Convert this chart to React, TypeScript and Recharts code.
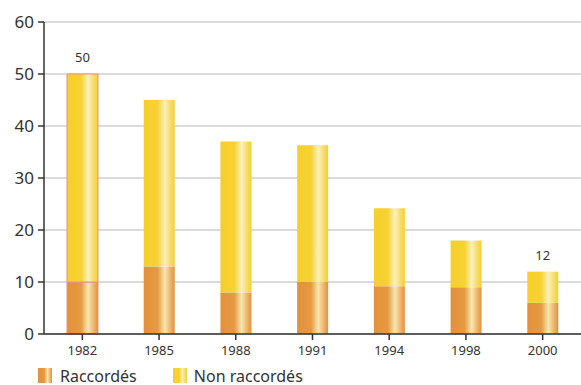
import React from "react";
import { BarChart, Bar, XAxis, YAxis, CartesianGrid, Legend, LabelList, Cell } from "recharts";

const years = ["1982", "1985", "1988", "1991", "1994", "1998", "2000"];
const raccordes = [10, 13, 8, 10, 9.2, 9, 6];
const nonRaccordes = [40, 32, 29, 26.3, 15, 9, 6];
const topLabels = ["50", "", "", "", "", "", "12"];
const yTicks = [0, 10, 20, 30, 40, 50, 60];

const data = years.map((y, i) => ({
  year: y,
  raccordes: raccordes[i],
  nonRaccordes: nonRaccordes[i],
  label: topLabels[i],
}));

const FONT = "'Noto Sans', sans-serif";
const ORANGE_CSS = "linear-gradient(to right, #E3913A 0%, #E59A42 45%, #F7E7B0 68%, #EDB870 85%, #E3913A 100%)";
const YELLOW_CSS = "linear-gradient(to right, #F6CF2A 0%, #F6D232 45%, #FAF0BB 68%, #F7DD70 85%, #F6CF2A 100%)";

const renderLegend = () => (
  <div style={{ display: "flex", alignItems: "center", fontFamily: FONT, fontSize: 16, color: "#333", paddingLeft: 38, paddingTop: 2, height: 21, boxSizing: "border-box", lineHeight: "16px" }}>
    <span style={{ display: "inline-block", width: 14, height: 15, background: ORANGE_CSS, marginRight: 8 }} />
    <span style={{ marginRight: 36 }}>Raccordés</span>
    <span style={{ display: "inline-block", width: 14, height: 15, background: YELLOW_CSS, marginRight: 7 }} />
    <span>Non raccordés</span>
  </div>
);

export default function App() {
  return (
    <div style={{ position: "absolute", left: 0, top: 0, width: 581, height: 385, background: "#fff", overflow: "hidden" }}>
      <BarChart
        width={581}
        height={385}
        data={data}
        margin={{ top: 22, right: 0, left: 0, bottom: 0 }}
        barCategoryGap={0}
      >
        <defs>
          <linearGradient id="gOrange" x1="0" y1="0" x2="1" y2="0">
            <stop offset="0%" stopColor="#E3913A" />
            <stop offset="45%" stopColor="#E59A42" />
            <stop offset="68%" stopColor="#F7E7B0" />
            <stop offset="85%" stopColor="#EDB870" />
            <stop offset="100%" stopColor="#E3913A" />
          </linearGradient>
          <linearGradient id="gYellow" x1="0" y1="0" x2="1" y2="0">
            <stop offset="0%" stopColor="#F6CF2A" />
            <stop offset="45%" stopColor="#F6D232" />
            <stop offset="68%" stopColor="#FAF0BB" />
            <stop offset="85%" stopColor="#F7DD70" />
            <stop offset="100%" stopColor="#F6CF2A" />
          </linearGradient>
        </defs>
        <CartesianGrid vertical={false} stroke="#cfcfcf" strokeWidth={1.5} />
        <XAxis
          dataKey="year"
          axisLine={{ stroke: "#333", strokeWidth: 1.5 }}
          tickLine={{ stroke: "#333", strokeWidth: 1.5 }}
          tickSize={6}
          tickMargin={6}
          tick={{ fill: "#333", fontSize: 13, fontFamily: FONT }}
          height={30}
          interval={0}
          scale="band"
        />
        <YAxis
          domain={[0, 60]}
          ticks={yTicks}
          width={44}
          axisLine={{ stroke: "#333", strokeWidth: 1.5 }}
          tickLine={{ stroke: "#333", strokeWidth: 1.5 }}
          tickSize={6}
          tickMargin={4}
          tick={{ fill: "#333", fontSize: 17, fontFamily: FONT }}
          interval={0}
        />
        <Legend content={renderLegend} verticalAlign="bottom" height={21} />
        <Bar dataKey="raccordes" stackId="a" barSize={31} fill="url(#gOrange)" isAnimationActive={false}>
          {data.map((d, i) => (
            <Cell key={i} stroke={i === 0 ? "#EC8F84" : "none"} strokeWidth={1} />
          ))}
        </Bar>
        <Bar dataKey="nonRaccordes" stackId="a" barSize={31} fill="url(#gYellow)" isAnimationActive={false}>
          {data.map((d, i) => (
            <Cell key={i} stroke={i === 0 ? "#EC8F84" : "none"} strokeWidth={1} />
          ))}
          <LabelList dataKey="label" position="top" offset={12} fill="#333" fontSize={13} fontFamily={FONT} />
        </Bar>
      </BarChart>
    </div>
  );
}
